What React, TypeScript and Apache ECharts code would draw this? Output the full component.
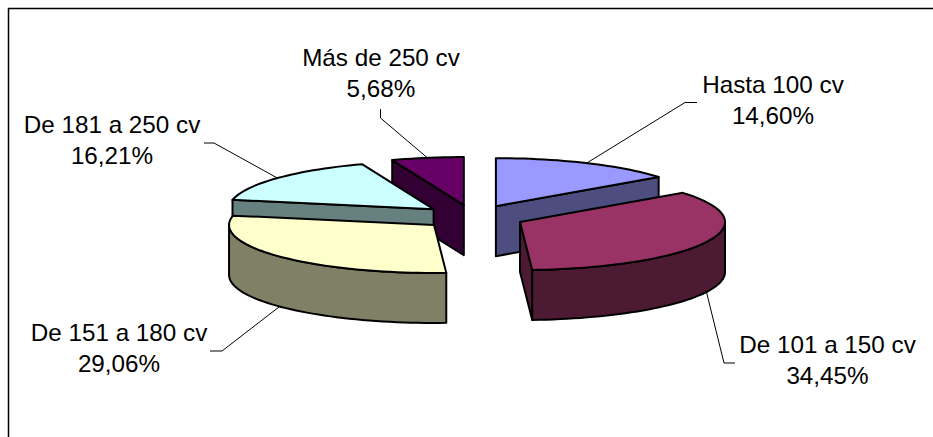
import React, { useEffect, useRef } from "react";
import * as echarts from "echarts";

const categories = ["Hasta 100 cv", "De 101 a 150 cv", "De 151 a 180 cv", "De 181 a 250 cv", "Más de 250 cv"];
const shares = [14.6, 34.45, 29.06, 16.21, 5.68];
const topColors = ["#9999FF", "#993366", "#FFFFCC", "#CCFFFF", "#660066"];
const sideColors = ["#4D4D80", "#4D1A33", "#808066", "#668080", "#330033"];
// label centre [x, first-line y], leader elbow and leader stub end
const labelAnchors = [[773, 85], [827.5, 345], [119, 333], [112, 125], [381, 58]];
const leaderElbows = [[685, 102.5], [724, 363], [222, 351], [214, 143], [380.5, 118]];
const leaderEnds = [[697, 102.5], [735, 363], [210, 351], [204, 143], [380.5, 109]];

const CX = 473, CY = 217, RX = 205, RY = 48, DEPTH = 50, EXPLODE = 51.7;
const total = shares.reduce((a, b) => a + b, 0);
const FONT = '23px "Liberation Sans", Arial, sans-serif';

const rad = (d: number) => (d * Math.PI) / 180;
const rim = (c: number[], a: number, drop = 0) => [c[0] + RX * Math.sin(rad(a)), c[1] - RY * Math.cos(rad(a)) + drop];
const arc = (c: number[], a0: number, a1: number, drop = 0) => {
  const pts: number[][] = [];
  const n = Math.max(2, Math.ceil((a1 - a0) / 2));
  for (let i = 0; i <= n; i++) pts.push(rim(c, a0 + ((a1 - a0) * i) / n, drop));
  return pts;
};

const starts: number[] = [];
shares.reduce((acc, v, i) => {
  starts[i] = (acc / total) * 360;
  return acc + v;
}, 0);
const apexOf = (i: number) => {
  const mid = starts[i] + ((shares[i] / total) * 360) / 2;
  return [CX + EXPLODE * Math.sin(rad(mid)), CY - (EXPLODE * RY * Math.cos(rad(mid))) / RX];
};
// back-to-front painting order, from the slices' depth on screen
const drawOrder = shares.map((_, i) => i).sort((a, b) => apexOf(a)[1] - apexOf(b)[1]);

export default function App() {
  const ref = useRef<HTMLDivElement>(null);
  useEffect(() => {
    const chart = echarts.init(ref.current!, undefined, { renderer: "svg" });
    const edge = { stroke: "#000", lineWidth: 2, lineJoin: "round" };
    const poly = (points: number[][], fill: string) => ({ type: "polygon", shape: { points }, style: { fill, ...edge } });
    chart.setOption({
      animation: false,
      backgroundColor: "#fff",
      graphic: [
        { type: "line", shape: { x1: 8, y1: 8.5, x2: 933, y2: 8.5 }, style: { stroke: "#000", lineWidth: 1.5 } },
        { type: "line", shape: { x1: 8.5, y1: 8, x2: 8.5, y2: 437 }, style: { stroke: "#000", lineWidth: 1.5 } },
      ],
      series: [
        {
          type: "custom",
          coordinateSystem: "none",
          silent: true,
          data: drawOrder.map((i) => ({ name: categories[i], value: [i, shares[i]] })),
          renderItem: (_: unknown, api: any) => {
            const i = api.value(0) as number;
            const value = api.value(1) as number;
            const sweep = (value / total) * 360;
            const a0 = starts[i];
            const a1 = a0 + sweep;
            const mid = a0 + sweep / 2;
            const c = apexOf(i);
            const children: any[] = [];
            const sin0 = Math.sin(rad(a0));
            const sin1 = Math.sin(rad(a1));
            if (sin0 < -1e-6) {
              const r = rim(c, a0);
              children.push(poly([c, r, [r[0], r[1] + DEPTH], [c[0], c[1] + DEPTH]], sideColors[i]));
            }
            if (sin1 > 1e-6) {
              const r = rim(c, a1);
              children.push(poly([c, r, [r[0], r[1] + DEPTH], [c[0], c[1] + DEPTH]], sideColors[i]));
            }
            const w0 = Math.max(a0, 90);
            const w1 = Math.min(a1, 270);
            if (w1 > w0) {
              children.push(poly([...arc(c, w0, w1), ...arc(c, w0, w1, DEPTH).reverse()], sideColors[i]));
            }
            children.push(poly([c, ...arc(c, a0, a1)], topColors[i]));
            const midCos = Math.cos(rad(mid));
            const anchor = rim(c, mid, midCos < 0 ? DEPTH : 0);
            children.push({
              type: "polyline",
              shape: { points: [anchor, leaderElbows[i], leaderEnds[i]] },
              style: { stroke: "#000", lineWidth: 1, fill: "none" },
            });
            const pos = labelAnchors[i];
            children.push({
              type: "text",
              x: pos[0],
              y: pos[1],
              scaleX: 1.055,
              style: { text: categories[i], font: FONT, fill: "#000", textAlign: "center", textVerticalAlign: "middle" },
            });
            children.push({
              type: "text",
              x: pos[0],
              y: pos[1] + 31,
              scaleX: 1.055,
              style: {
                text: value.toFixed(2).replace(".", ",") + "%",
                font: FONT,
                fill: "#000",
                textAlign: "center",
                textVerticalAlign: "middle",
              },
            });
            return { type: "group", children };
          },
        },
      ],
    });
    return () => chart.dispose();
  }, []);
  return <div ref={ref} style={{ position: "absolute", left: 0, top: 0, width: 933, height: 437 }} />;
}
